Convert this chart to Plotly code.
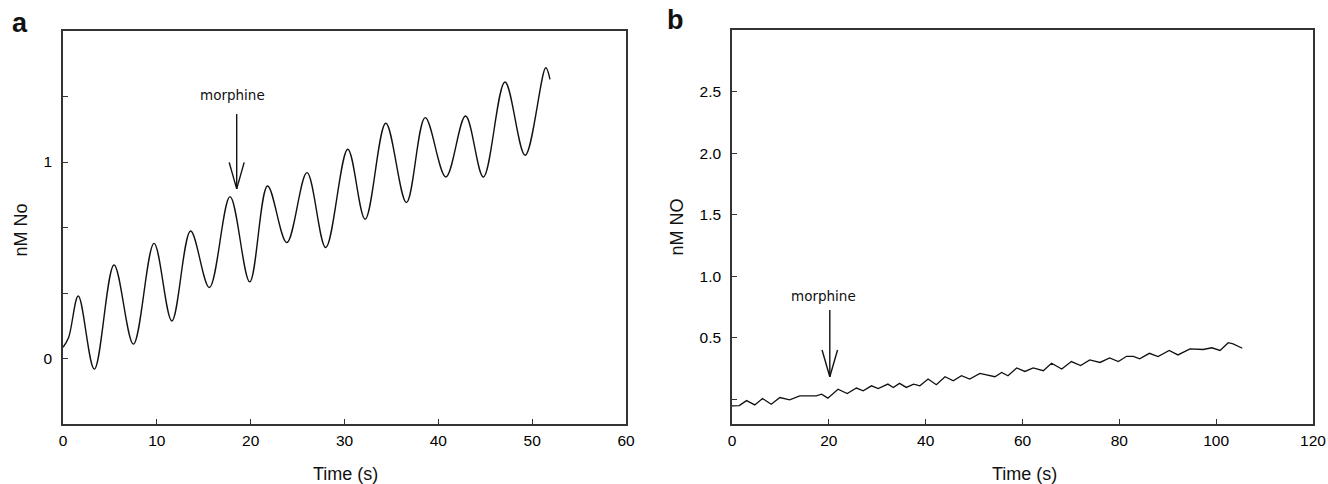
import plotly.graph_objects as go
from plotly.subplots import make_subplots

# Panel a: NO trace (time s, nM)
time_a = [0, 0.6, 1.63, 3.34, 5.44, 7.5, 9.7, 11.6, 13.6, 15.6, 17.8, 19.9, 21.8, 23.85,
          26.0, 28.0, 30.35, 32.2, 34.4, 36.6, 38.6, 40.8, 42.9, 44.8, 47.1, 49.25, 51.45, 51.9]
no_a = [0.057, 0.107, 0.318, -0.054, 0.476, 0.073, 0.586, 0.191, 0.649, 0.361, 0.824, 0.39,
        0.878, 0.59, 0.946, 0.565, 1.065, 0.709, 1.197, 0.794, 1.226, 0.924, 1.234, 0.924,
        1.407, 1.034, 1.48, 1.42]

# Panel b: NO trace (time s, nM)
time_b = [0, 1.5, 3.0, 4.7, 6.3, 8.1, 9.9, 11.9, 14.0, 17.4, 18.5, 19.8, 21.9, 23.8, 25.7, 27.1,
          28.8, 30.2, 32.2, 33.3, 34.6, 36.0, 37.5, 38.8, 40.5, 42.2, 44.0, 45.7, 47.4, 49.1,
          51.2, 53.2, 54.3, 55.7, 57.0, 58.8, 60.5, 62.2, 64.3, 66.0, 68.1, 70.1, 72.0, 73.9,
          76.0, 78.0, 79.8, 81.5, 82.9, 84.2, 86.2, 88.0, 90.3, 92.1, 94.6, 97.3, 99.1, 100.8,
          102.5, 103.5, 105.4]
no_b = [-0.053, -0.05, -0.01, -0.045, 0.007, -0.04, 0.015, -0.004, 0.029, 0.029, 0.042, 0.01,
        0.083, 0.047, 0.092, 0.07, 0.11, 0.088, 0.124, 0.097, 0.13, 0.097, 0.124, 0.11, 0.165,
        0.119, 0.184, 0.151, 0.192, 0.165, 0.211, 0.195, 0.184, 0.219, 0.192, 0.255, 0.227,
        0.255, 0.233, 0.293, 0.247, 0.307, 0.274, 0.32, 0.30, 0.337, 0.307, 0.35, 0.35, 0.329,
        0.374, 0.347, 0.397, 0.361, 0.41, 0.405, 0.419, 0.397, 0.46, 0.451, 0.415]

xticks_a = [0, 10, 20, 30, 40, 50, 60]
yticks_a = [0, 1/3, 2/3, 1, 4/3]
ylabels_a = ["0", "", "", "1", ""]
xticks_b = [0, 20, 40, 60, 80, 100, 120]
yticks_b = [0, 0.5, 1.0, 1.5, 2.0, 2.5]
ylabels_b = ["", "0.5", "1.0", "1.5", "2.0", "2.5"]

# morphine injection markers: (time, arrow top, arrow tip, head y, head half-width, label y)
morph_a = dict(t=18.51, top=1.244, tip=0.863, head=0.998, hw=0.8, ty=1.342, tx=18.06)
morph_b = dict(t=20.2, top=0.726, tip=0.184, head=0.401, hw=1.6, ty=0.84, tx=18.8)

L, R, T, B = 63, 15, 30, 60
W, H = 1328, 484
pw = W - L - R
ph = H - T - B

fig = make_subplots(rows=1, cols=2)
fig.add_trace(go.Scatter(x=time_a, y=no_a, mode="lines", line=dict(color="#111", width=1.4,
                                                                    shape="spline", smoothing=1.0),
                         showlegend=False), row=1, col=1)
fig.add_trace(go.Scatter(x=time_b, y=no_b, mode="lines", line=dict(color="#111", width=1.3),
                         showlegend=False), row=1, col=2)

font_family = "Liberation Sans, Arial, sans-serif"
axis_common = dict(showline=True, linecolor="#333", linewidth=1.5, mirror=True, ticks="inside",
                   ticklen=5, tickwidth=1.2, tickcolor="#333", showgrid=False, zeroline=False,
                   tickfont=dict(family=font_family, size=15.5, color="#000"))

fig.update_xaxes(range=[0, 60], tickvals=xticks_a, domain=[0, (626 - L) / pw], **axis_common,
                 ticklabelstandoff=2, row=1, col=1)
fig.update_yaxes(range=[-1/3, 5/3], tickvals=yticks_a, ticktext=ylabels_a,
                 domain=[0, (424 - 31) / ph], **axis_common, ticklabelposition="outside",
                 ticklabelstandoff=6, row=1, col=1)
fig.update_xaxes(range=[0, 120], tickvals=xticks_b, domain=[(732 - L) / pw, 1], **axis_common,
                 ticklabelstandoff=2, row=1, col=2)
fig.update_yaxes(range=[-0.2, 3.0], tickvals=yticks_b, ticktext=ylabels_b, domain=[0, 1],
                 **axis_common, ticklabelposition="outside", ticklabelstandoff=6, row=1, col=2)

shapes = []
annotations = []
for m, xr, yr in [(morph_a, "x", "y"), (morph_b, "x2", "y2")]:
    ln = dict(color="#111", width=1.4)
    shapes.append(dict(type="line", xref=xr, yref=yr, x0=m["t"], x1=m["t"], y0=m["top"], y1=m["tip"], line=ln))
    shapes.append(dict(type="line", xref=xr, yref=yr, x0=m["t"] - m["hw"], x1=m["t"], y0=m["head"], y1=m["tip"], line=ln))
    shapes.append(dict(type="line", xref=xr, yref=yr, x0=m["t"] + m["hw"], x1=m["t"], y0=m["head"], y1=m["tip"], line=ln))
    annotations.append(dict(xref=xr, yref=yr, x=m["tx"], y=m["ty"], text="morphine", showarrow=False,
                            font=dict(family="DejaVu Sans, sans-serif", size=13.5, color="#111"),
                            xanchor="center", yanchor="middle"))

def px(xp):
    return (xp - L) / pw

def py(yp):
    return (H - B - yp) / ph

title_font = dict(family=font_family, size=18, color="#111")
annotations += [
    dict(xref="paper", yref="paper", x=px(20), y=py(23), text="<b>a</b>", showarrow=False,
         font=dict(family=font_family, size=27, color="#111"), xanchor="center", yanchor="middle"),
    dict(xref="paper", yref="paper", x=px(675.3), y=py(20.3), text="<b>b</b>", showarrow=False,
         font=dict(family=font_family, size=27, color="#111"), xanchor="center", yanchor="middle"),
    dict(xref="paper", yref="paper", x=px(345), y=py(474), text="Time (s)", showarrow=False,
         font=title_font, xanchor="center", yanchor="middle"),
    dict(xref="paper", yref="paper", x=px(1024.5), y=py(474), text="Time (s)", showarrow=False,
         font=title_font, xanchor="center", yanchor="middle"),
    dict(xref="paper", yref="paper", x=px(20.5), y=py(230), text="nM No", showarrow=False,
         textangle=-90, font=title_font, xanchor="center", yanchor="middle"),
    dict(xref="paper", yref="paper", x=px(676.7), y=py(226.7), text="nM NO", showarrow=False,
         textangle=-90, font=title_font, xanchor="center", yanchor="middle"),
]

fig.update_layout(width=W, height=H, margin=dict(l=L, r=R, t=T, b=B, autoexpand=False),
                  plot_bgcolor="white", paper_bgcolor="white", shapes=shapes,
                  annotations=annotations, showlegend=False)

fig.write_html("out.html", config={"displayModeBar": False},
               post_script="document.body.style.margin='0px';document.body.style.padding='0px';"
                           "document.body.style.overflow='hidden';")
